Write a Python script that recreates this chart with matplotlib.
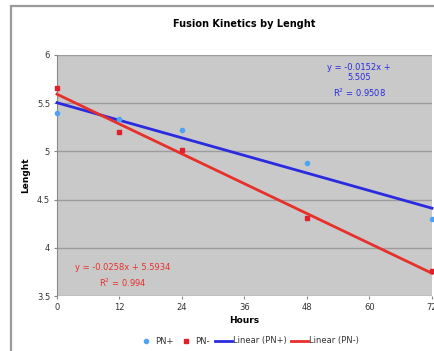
import numpy as np
import matplotlib
matplotlib.use("Agg")
import matplotlib.pyplot as plt
from matplotlib.patches import Rectangle
from matplotlib.lines import Line2D

# -------- Data -------- #
hours = [0, 12, 24, 48, 72]
pn_plus = [5.40, 5.34, 5.22, 4.88, 4.30]
pn_minus = [5.66, 5.20, 5.01, 4.31, 3.76]

# trendline coefficients (as printed on the chart)
fit_plus = (-0.0152, 5.505, 0.9508)
fit_minus = (-0.0258, 5.5934, 0.994)

x_ticks = [0, 12, 24, 36, 48, 60, 72]
y_ticks = [3.5, 4, 4.5, 5, 5.5, 6]
y_tick_labels = ["3.5", "4", "4.5", "5", "5.5", "6"]

blue_pt = "#4fa3f5"
red_pt = "#e0202a"
blue_ln = "#2a2ae0"
red_ln = "#e8302a"

# -------- Figure -------- #
fig = plt.figure(figsize=(4.35, 3.51), dpi=100)
fig.patches.append(Rectangle((11 / 435, -0.1), 1.2, 1.1 - 5.5 / 351,
                             transform=fig.transFigure, fill=False,
                             edgecolor="#9a9a9a", linewidth=1.6, zorder=0))

ax = fig.add_axes([57 / 435, 55 / 351, 375 / 435, 241 / 351])
ax.set_facecolor("#c9c9c9")
ax.set_xlim(0, 72)
ax.set_ylim(3.5, 6)

ax.set_xticks(x_ticks)
ax.set_yticks(y_ticks)
ax.set_yticklabels(y_tick_labels)
ax.tick_params(labelsize=6, length=2, color="#888888", labelcolor="#333333", pad=3)
ax.grid(axis="y", color="#9c9c9c", linewidth=1.0)
ax.set_axisbelow(True)
for side in ["top", "right", "bottom"]:
    ax.spines[side].set_visible(False)
ax.spines["left"].set_color("#8a8a8a")

# trendlines
xs = np.array([min(hours), max(hours)])
ax.plot(xs, fit_plus[0] * xs + fit_plus[1], color=blue_ln, linewidth=2.0,
        zorder=3, clip_on=False)
ax.plot(xs, fit_minus[0] * xs + fit_minus[1], color=red_ln, linewidth=2.0,
        zorder=3, clip_on=False)

# points
ax.plot(hours, pn_plus, "o", color=blue_pt, markersize=3.0, zorder=4, clip_on=False)
ax.plot(hours, pn_minus, "s", color=red_pt, markersize=3.5, zorder=4, clip_on=False)

# equations
ax.text(58, 5.82, "y = -0.0152x +\n5.505", color=blue_ln, fontsize=6,
        ha="center", va="center", linespacing=1.1)
ax.text(58, 5.61, "R$^2$ = 0.9508", color=blue_ln, fontsize=6,
        ha="center", va="center")
ax.text(12.7, 3.8, "y = -0.0258x + 5.5934", color=red_ln, fontsize=6,
        ha="center", va="center")
ax.text(12.7, 3.64, "R$^2$ = 0.994", color=red_ln, fontsize=6,
        ha="center", va="center")

ax.set_title("Fusion Kinetics by Lenght", fontsize=7, fontweight="bold", pad=20)
ax.set_xlabel("Hours", fontsize=6.5, fontweight="bold", labelpad=3)
ax.set_ylabel("Lenght", fontsize=6.5, fontweight="bold", labelpad=5)

handles = [
    Line2D([], [], marker="o", color=blue_pt, linestyle="none", markersize=3.0),
    Line2D([], [], marker="s", color=red_pt, linestyle="none", markersize=3.5),
    Line2D([], [], color=blue_ln, linewidth=2),
    Line2D([], [], color=red_ln, linewidth=2),
]
fig.legend(handles, ["PN+", "PN-", "Linear (PN+)", "Linear (PN-)"],
           loc="center", bbox_to_anchor=(248 / 435, 1 - 341 / 351), ncol=4,
           frameon=False, fontsize=6, handlelength=2.0, handletextpad=0.1,
           columnspacing=0.6, labelcolor="#333333")

fig.savefig("out.png", dpi=100)
